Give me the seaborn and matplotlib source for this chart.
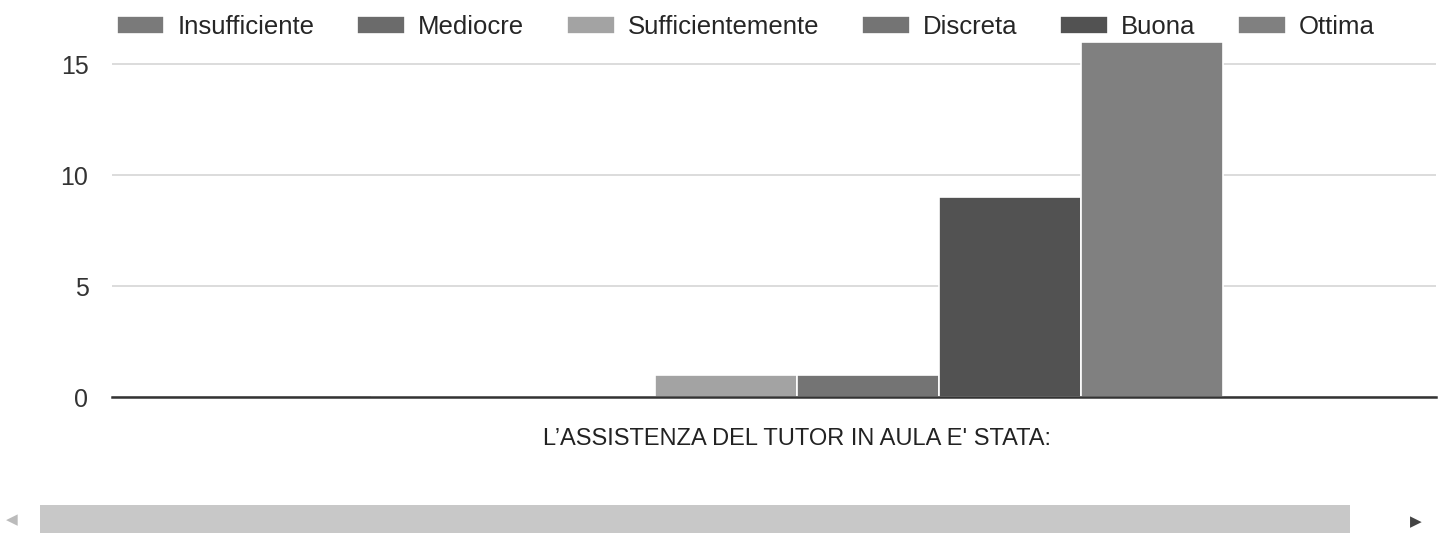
import numpy as np
import pandas as pd
import seaborn as sns
import matplotlib.pyplot as plt
from matplotlib.patches import Rectangle

# data
domanda = ["L\u2019ASSISTENZA DEL TUTOR IN AULA E' STATA:"]
giudizi = ['Insufficiente', 'Mediocre', 'Sufficientemente', 'Discreta', 'Buona', 'Ottima']
conteggi = [0, 0, 1, 1, 9, 16]
colori = ['#7a7a7a', '#6b6b6b', '#a3a3a3', '#747474', '#525252', '#808080']
y_ticks = [0, 5, 10, 15]

df = pd.DataFrame({'domanda': domanda * len(giudizi), 'giudizio': giudizi, 'n': conteggi})

sns.set_style('white')
plt.rcParams['font.family'] = ['Liberation Sans', 'DejaVu Sans']

fig = plt.figure(figsize=(14.42, 5.41), dpi=100)
ax = fig.add_axes([0.0777, 0.266, 0.918, 0.677])

sns.barplot(data=df, x='domanda', y='n', hue='giudizio', palette=colori,
            hue_order=giudizi, width=0.8, edgecolor='white', linewidth=1.2,
            saturation=1, ax=ax)

ax.set_xlim(-0.643, 0.600)
ax.set_ylim(0, 16.5)
ax.set_yticks(y_ticks)
ax.set_yticklabels([str(t) for t in y_ticks], fontsize=18, color='#333333')
ax.tick_params(axis='y', length=0, pad=17)
ax.tick_params(axis='x', length=0, pad=22, labelsize=17, colors='#222222')
ax.set_xlabel('')
ax.set_ylabel('')
ax.grid(axis='y', color='#d6d6d6', linewidth=1.2)
ax.set_axisbelow(True)
for s in ['top', 'right', 'left']:
    ax.spines[s].set_visible(False)
ax.spines['bottom'].set_color('#333333')
ax.spines['bottom'].set_linewidth(1.8)

# legend on a single row across the top
handles, labels = ax.get_legend_handles_labels()
ax.legend(handles, labels, loc='center left', bbox_to_anchor=(0.081, 0.950),
          bbox_transform=fig.transFigure, ncol=6, frameon=False, fontsize=18.5,
          handlelength=1.85, handleheight=0.75, handletextpad=0.5,
          columnspacing=1.68, borderpad=0, borderaxespad=0)

# scrollbar under the chart
fig.patches.append(Rectangle((40 / 1442, 1 - 533 / 541), 1310 / 1442, 28 / 541,
                             transform=fig.transFigure, facecolor='#c8c8c8',
                             edgecolor='none'))
fig.text(6 / 1442, 1 - 520 / 541, '\u25c0', fontsize=11, color='#bbbbbb',
         family='DejaVu Sans', va='center', ha='left')
fig.text(1410 / 1442, 1 - 522 / 541, '\u25b6', fontsize=11, color='#444444',
         family='DejaVu Sans', va='center', ha='left')

plt.savefig('out.png', dpi=100)
